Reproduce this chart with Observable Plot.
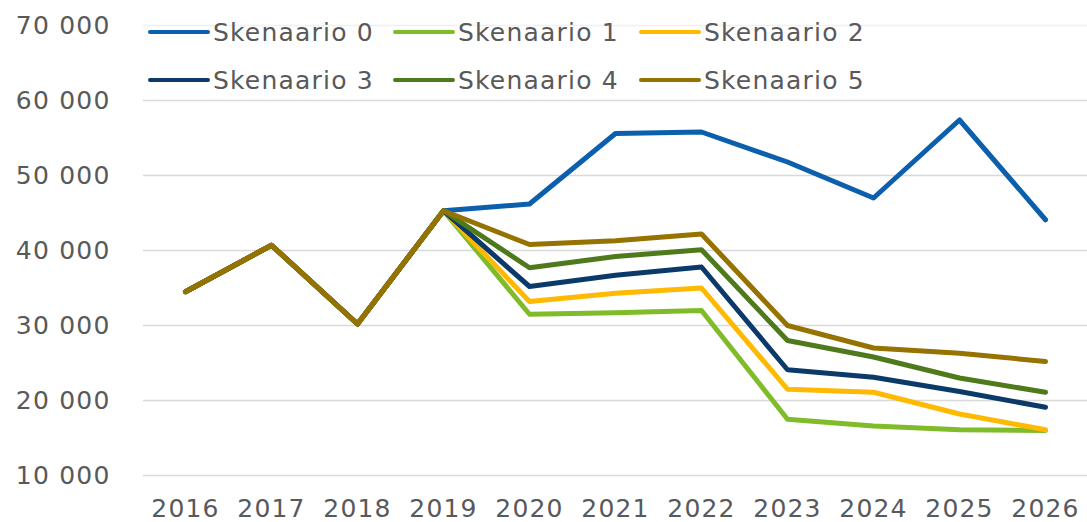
<!DOCTYPE html>
<html>
<head>
<meta charset="utf-8">
<script src="https://cdn.jsdelivr.net/npm/d3@7"></script>
<script src="https://cdn.jsdelivr.net/npm/@observablehq/plot@0.6"></script>
<style>
  html, body { margin: 0; padding: 0; background: #fff; }
  #wrap { position: relative; width: 1087px; height: 522px; overflow: hidden; }
  #legend {
    position: absolute; left: 148px; top: 8px;
    display: grid; grid-template-columns: 245px 246px auto; grid-auto-rows: 48px;
    font-family: "DejaVu Sans", sans-serif; font-size: 25px; letter-spacing: 1.2px; color: #595959;
  }
  .item { display: flex; align-items: center; white-space: nowrap; }
  .sw { width: 62px; height: 4px; border-radius: 2px; margin-right: 3px; }
</style>
</head>
<body>
<div id="wrap"><div id="legend"></div></div>
<script>
const years = [2016, 2017, 2018, 2019, 2020, 2021, 2022, 2023, 2024, 2025, 2026];
const seriesNames = ["Skenaario 0", "Skenaario 1", "Skenaario 2", "Skenaario 3", "Skenaario 4", "Skenaario 5"];
const seriesColors = ["#0B5FAC", "#80BC2A", "#FFB900", "#0B3A6A", "#4F7A1C", "#967200"];
const skenaario0 = [34500, 40700, 30200, 45300, 46200, 55600, 55800, 51800, 47000, 57400, 44100];
const skenaario1 = [34500, 40700, 30200, 45300, 31500, 31700, 32000, 17500, 16600, 16100, 16000];
const skenaario2 = [34500, 40700, 30200, 45300, 33200, 34300, 35000, 21500, 21100, 18200, 16100];
const skenaario3 = [34500, 40700, 30200, 45300, 35200, 36700, 37800, 24100, 23100, 21200, 19100];
const skenaario4 = [34500, 40700, 30200, 45300, 37700, 39200, 40100, 28000, 25800, 23000, 21100];
const skenaario5 = [34500, 40700, 30200, 45300, 40800, 41300, 42200, 30000, 27000, 26300, 25200];
const yTicks = [10000, 20000, 30000, 40000, 50000, 60000, 70000];

const allSeries = [skenaario0, skenaario1, skenaario2, skenaario3, skenaario4, skenaario5];
const data = [];
allSeries.forEach((vals, i) => {
  vals.forEach((v, j) => data.push({series: seriesNames[i], year: years[j], value: v}));
});

const fmt = d => d3.format(",")(d).replace(/,/g, " ");

const chart = Plot.plot({
  width: 1087,
  height: 522,
  marginLeft: 143,
  marginRight: 0,
  marginTop: 25,
  marginBottom: 47,
  style: {fontFamily: "DejaVu Sans, sans-serif", fontSize: "25px", color: "#595959", background: "white", letterSpacing: "1.2px"},
  x: {type: "point", domain: years, padding: 0.463},
  y: {domain: [10000, 70000]},
  color: {domain: seriesNames, range: seriesColors},
  marks: [
    Plot.ruleY(yTicks.filter(d => d < 70000), {stroke: "#d9d9d9", strokeWidth: 1.5}),
    Plot.ruleY(yTicks.filter(d => d >= 70000), {stroke: "#f0f0f0", strokeWidth: 1.5}),
    Plot.axisY({ticks: yTicks, tickSize: 0, tickPadding: 33, tickFormat: fmt, label: null, fontSize: 25}),
    Plot.axisX({tickSize: 0, tickPadding: 24, tickFormat: d => String(d), label: null, fontSize: 25}),
    Plot.line(data, {x: "year", y: "value", z: "series", stroke: "series", strokeWidth: 5, strokeLinejoin: "round", strokeLinecap: "round"})
  ]
});
document.getElementById("wrap").prepend(chart);

const legend = document.getElementById("legend");
seriesNames.forEach((name, i) => {
  const item = document.createElement("div");
  item.className = "item";
  const sw = document.createElement("span");
  sw.className = "sw";
  sw.style.background = seriesColors[i];
  const t = document.createElement("span");
  t.textContent = name;
  item.append(sw, t);
  legend.append(item);
});
</script>
</body>
</html>
